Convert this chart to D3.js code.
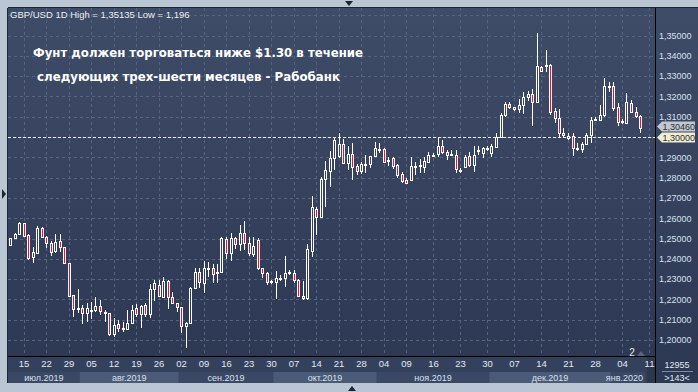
<!DOCTYPE html>
<html>
<head>
<meta charset="utf-8">
<script src="https://cdn.jsdelivr.net/npm/d3@7"></script>
<style>
  body { margin: 0; background: #bac6d4; }
  svg { display: block; }
</style>
</head>
<body>
<svg id="chart" width="698" height="392"></svg>
<script>
// GBP/USD daily candles (index 0 = 10 Jul 2019)
var opens = [1.2468,1.2501,1.2521,1.2575,1.2517,1.2407,1.2430,1.2550,1.2506,1.2479,
  1.2440,1.2486,1.2457,1.2378,1.2222,1.2151,1.2156,1.2132,1.2150,1.2148,
  1.2169,1.2139,1.2131,1.2028,1.2077,1.2058,1.2056,1.2085,1.2159,1.2127,
  1.2171,1.2127,1.2250,1.2271,1.2213,1.2291,1.2213,1.2181,1.2161,1.2069,
  1.2085,1.2255,1.2336,1.2282,1.2350,1.2353,1.2330,1.2336,1.2496,1.2430,
  1.2501,1.2473,1.2529,1.2476,1.2424,1.2493,1.2353,1.2332,1.2287,1.2287,
  1.2302,1.2304,1.2330,1.2332,1.2296,1.2217,1.2205,1.2440,1.2645,1.2607,
  1.2792,1.2834,1.2895,1.2906,1.2964,1.2873,1.2916,1.2857,1.2834,1.2865,
  1.2865,1.2906,1.2941,1.2939,1.2885,1.2895,1.2862,1.2818,1.2788,1.2788,
  1.2855,1.2858,1.2851,1.2878,1.2910,1.2916,1.2956,1.2928,1.2913,1.2911,
  1.2839,1.2854,1.2906,1.2862,1.2933,1.2920,1.2941,1.2920,1.2952,1.3001,
  1.3108,1.3163,1.3146,1.3136,1.3158,1.3199,1.3212,1.3174,1.3347,1.3352,
  1.3355,1.3130,1.3092,1.3018,1.2994,1.3005,1.2946,1.2939,1.2966,1.3010,
  1.3084,1.3084,1.3108,1.3249,1.3251,1.3146,1.3075,1.3071,1.3169,1.3125,
  1.3103];
var highs = [1.2503,1.2525,1.2581,1.2578,1.2520,1.2460,1.2562,1.2558,1.2512,1.2486,
  1.2521,1.2522,1.2460,1.2380,1.2223,1.2250,1.2171,1.2181,1.2187,1.2210,
  1.2197,1.2148,1.2135,1.2107,1.2099,1.2090,1.2148,1.2172,1.2177,1.2172,
  1.2181,1.2276,1.2296,1.2296,1.2309,1.2296,1.2236,1.2184,1.2164,1.2090,
  1.2260,1.2353,1.2353,1.2389,1.2386,1.2374,1.2374,1.2509,1.2506,1.2529,
  1.2509,1.2567,1.2588,1.2509,1.2509,1.2501,1.2356,1.2337,1.2296,1.2341,
  1.2320,1.2414,1.2345,1.2345,1.2300,1.2291,1.2473,1.2709,1.2654,1.2801,
  1.2882,1.2933,1.2997,1.3018,1.2988,1.2956,1.2969,1.2865,1.2878,1.2911,
  1.2906,1.2977,1.2972,1.2947,1.2901,1.2903,1.2867,1.2828,1.2798,1.2903,
  1.2879,1.2890,1.2903,1.2928,1.2920,1.2993,1.2985,1.2936,1.2938,1.2936,
  1.2846,1.2911,1.2928,1.2956,1.2956,1.2953,1.2956,1.2966,1.3018,1.3116,
  1.3174,1.3174,1.3150,1.3186,1.3223,1.3228,1.3235,1.3514,1.3350,1.3429,
  1.3358,1.3145,1.3140,1.3043,1.3018,1.3018,1.2970,1.2977,1.3018,1.3100,
  1.3100,1.3158,1.3289,1.3272,1.3272,1.3166,1.3090,1.3218,1.3184,1.3150,
  1.3108];
var lows = [1.2465,1.2498,1.2518,1.2510,1.2394,1.2381,1.2428,1.2501,1.2455,1.2414,
  1.2427,1.2435,1.2378,1.2215,1.2115,1.2132,1.2077,1.2090,1.2102,1.2136,
  1.2123,1.2090,1.2021,1.2013,1.2041,1.2041,1.2049,1.2079,1.2115,1.2061,
  1.2115,1.2107,1.2194,1.2210,1.2210,1.2154,1.2177,1.2139,1.2036,1.1960,
  1.2079,1.2250,1.2255,1.2233,1.2312,1.2282,1.2282,1.2328,1.2398,1.2391,
  1.2447,1.2440,1.2443,1.2414,1.2410,1.2345,1.2304,1.2271,1.2278,1.2202,
  1.2290,1.2263,1.2318,1.2279,1.2213,1.2197,1.2197,1.2410,1.2517,1.2601,
  1.2657,1.2752,1.2837,1.2895,1.2870,1.2837,1.2788,1.2813,1.2818,1.2821,
  1.2846,1.2903,1.2920,1.2870,1.2857,1.2841,1.2797,1.2772,1.2772,1.2785,
  1.2812,1.2825,1.2821,1.2870,1.2905,1.2903,1.2916,1.2887,1.2905,1.2824,
  1.2824,1.2846,1.2854,1.2829,1.2911,1.2895,1.2930,1.2903,1.2946,1.2993,
  1.3100,1.3140,1.3130,1.3118,1.3113,1.3175,1.3054,1.3170,1.3325,1.3322,
  1.3108,1.3067,1.2994,1.2994,1.2983,1.2906,1.2929,1.2920,1.2961,1.2969,
  1.3077,1.3080,1.3100,1.3223,1.3130,1.3054,1.3066,1.3067,1.3120,1.3095,
  1.3018];
var closes = [1.2501,1.2521,1.2578,1.2514,1.2402,1.2435,1.2550,1.2506,1.2476,1.2435,
  1.2484,1.2457,1.2381,1.2218,1.2151,1.2156,1.2132,1.2156,1.2146,1.2169,
  1.2143,1.2131,1.2028,1.2074,1.2058,1.2060,1.2082,1.2148,1.2127,1.2167,
  1.2127,1.2251,1.2279,1.2217,1.2291,1.2214,1.2181,1.2161,1.2069,1.2082,
  1.2255,1.2336,1.2287,1.2353,1.2353,1.2325,1.2333,1.2501,1.2430,1.2501,
  1.2473,1.2529,1.2479,1.2430,1.2463,1.2353,1.2329,1.2287,1.2290,1.2304,
  1.2305,1.2332,1.2334,1.2296,1.2217,1.2205,1.2447,1.2654,1.2607,1.2792,
  1.2837,1.2895,1.2985,1.2964,1.2873,1.2916,1.2854,1.2833,1.2867,1.2868,
  1.2906,1.2944,1.2939,1.2878,1.2887,1.2859,1.2813,1.2785,1.2775,1.2857,
  1.2858,1.2862,1.2883,1.2911,1.2913,1.2956,1.2928,1.2911,1.2915,1.2841,
  1.2837,1.2903,1.2862,1.2911,1.2937,1.2944,1.2946,1.2956,1.3001,1.3108,
  1.3163,1.3146,1.3136,1.3158,1.3199,1.3212,1.3174,1.3350,1.3327,1.3355,
  1.3125,1.3092,1.3018,1.3008,1.3004,1.2944,1.2943,1.2966,1.3010,1.3084,
  1.3089,1.3108,1.3251,1.3252,1.3141,1.3075,1.3078,1.3174,1.3125,1.3103,
  1.3046];

// bottom axis: candle index of each date label
var tickIdx = [3, 8, 13, 18, 23, 28, 33, 38, 43, 48, 53, 58, 63, 68, 73, 78, 83, 88, 94, 100, 106, 112, 118, 124, 130, 136, 142];
var tickLabels = ["15","22","29","05","12","19","26","02","09","16","23","30","07","14","21","28","04","09","16","23","30","07","14","21","28","04","11"];

// month bands (first candle index of each month)
var monthStart = [-3, 16, 38, 59, 82, 107, 134];
var monthEnd   = [16, 38, 59, 82, 107, 134, 141.6];
var monthNames = ["июл.2019","авг.2019","сен.2019","окт.2019","ноя.2019","дек.2019","янв.2020"];

var priceTicks = [1.20,1.21,1.22,1.23,1.24,1.25,1.26,1.27,1.28,1.29,1.30,1.31,1.32,1.33,1.34,1.35];
var lastPrice = 1.3046, levelPrice = 1.30;

var svg = d3.select("#chart");
var plotL = 8, plotR = 655, plotT = 8, plotB = 357, axisB = 383;
var font = "Liberation Sans, Arial, sans-serif";

var x = d3.scaleLinear().domain([0, 140]).range([10, 640]);
var y = d3.scaleLinear().domain([1.20, 1.35]).range([340, 35.5]);
var fmt = function(d) { return d3.format(".5f")(d).replace(".", ","); };

var defs = svg.append("defs");
var grad = defs.append("linearGradient").attr("id", "bg")
    .attr("gradientUnits", "userSpaceOnUse")
    .attr("x1", 0).attr("y1", plotT).attr("x2", 0).attr("y2", axisB);
grad.append("stop").attr("offset", "0%").attr("stop-color", "#3f4c68");
grad.append("stop").attr("offset", "100%").attr("stop-color", "#2c3752");
defs.append("clipPath").attr("id", "plotclip")
  .append("rect").attr("x", plotL).attr("y", plotT).attr("width", plotR - plotL).attr("height", plotB - plotT);

// frame
svg.append("rect").attr("x", 0).attr("y", 0).attr("width", 698).attr("height", 392).attr("fill", "#bac6d4");
svg.append("rect").attr("x", plotL).attr("y", plotT).attr("width", 698 - plotL).attr("height", axisB - plotT).attr("fill", "url(#bg)");
svg.append("line").attr("x1", plotL - 0.5).attr("x2", plotL - 0.5).attr("y1", plotT).attr("y2", axisB)
    .attr("stroke", "#1c2436");
svg.append("line").attr("x1", plotL).attr("x2", 698).attr("y1", plotT - 0.5).attr("y2", plotT - 0.5)
    .attr("stroke", "#1c2436");

// grid
var g = svg.append("g").attr("clip-path", "url(#plotclip)");
g.selectAll(".hgrid").data(priceTicks.concat([1.36])).enter().append("line")
    .attr("x1", plotL).attr("x2", plotR)
    .attr("y1", function(d) { return Math.round(y(d)) + 0.5; })
    .attr("y2", function(d) { return Math.round(y(d)) + 0.5; })
    .attr("stroke", "#56647f").attr("stroke-dasharray", "3,3");
g.selectAll(".vgrid").data(tickIdx).enter().append("line")
    .attr("x1", function(d) { return Math.round(x(d)) + 0.5; })
    .attr("x2", function(d) { return Math.round(x(d)) + 0.5; })
    .attr("y1", plotT).attr("y2", plotB)
    .attr("stroke", "#56647f").attr("stroke-dasharray", "3,3");

// 1.30 level line
g.append("line").attr("x1", plotL).attr("x2", plotR)
    .attr("y1", Math.round(y(levelPrice)) + 0.5).attr("y2", Math.round(y(levelPrice)) + 0.5)
    .attr("stroke", "#eeeeee").attr("stroke-dasharray", "3,2");

// candles
var candles = d3.range(opens.length).map(function(i) {
  return {i: i, o: opens[i], h: highs[i], l: lows[i], c: closes[i]};
});
var cg = g.append("g");
cg.selectAll(".wick").data(candles).enter().append("line")
    .attr("x1", function(d) { return Math.round(x(d.i)) + 0.5; })
    .attr("x2", function(d) { return Math.round(x(d.i)) + 0.5; })
    .attr("y1", function(d) { return Math.round(y(d.h)); })
    .attr("y2", function(d) { return Math.round(y(d.l)); })
    .attr("stroke", "#ffffff");
cg.selectAll(".body").data(candles).enter().append("rect")
    .attr("x", function(d) { return Math.round(x(d.i)) - 0.5; })
    .attr("width", 2)
    .attr("y", function(d) { return Math.round(y(Math.max(d.o, d.c))) + 0.5; })
    .attr("height", function(d) {
      return Math.max(1, Math.round(y(Math.min(d.o, d.c))) - Math.round(y(Math.max(d.o, d.c))));
    })
    .attr("fill", function(d) { return d.c < d.o ? "#e3123c" : "url(#bg)"; })
    .attr("stroke", "#ffffff");

// header texts
svg.append("text").attr("x", 10).attr("y", 18)
    .attr("font-family", font).attr("font-size", "9.5px")
    .attr("fill", "#e9eef5")
    .text("GBP/USD 1D  High = 1,35135 Low = 1,196");
svg.append("text").attr("x", 33).attr("y", 57)
    .attr("font-family", "DejaVu Sans, sans-serif").attr("font-size", "12px").attr("font-weight", "bold")
    .attr("fill", "#ffffff").attr("textLength", 330).attr("lengthAdjust", "spacingAndGlyphs")
    .text("Фунт должен торговаться ниже $1.30 в течение");
svg.append("text").attr("x", 37).attr("y", 81)
    .attr("font-family", "DejaVu Sans, sans-serif").attr("font-size", "12px").attr("font-weight", "bold")
    .attr("fill", "#ffffff").attr("textLength", 303).attr("lengthAdjust", "spacingAndGlyphs")
    .text("следующих трех-шести месяцев - Рабобанк");

// x axis area
svg.append("rect").attr("x", plotL).attr("y", plotB).attr("width", plotR - plotL).attr("height", axisB - plotB)
    .attr("fill", "#34415c");
svg.selectAll(".band").data(monthNames).enter().append("rect")
    .attr("x", function(d, i) { return Math.max(plotL, x(monthStart[i] - 0.5)); })
    .attr("width", function(d, i) { return Math.min(plotR - 8, x(monthEnd[i] - 0.5)) - Math.max(plotL, x(monthStart[i] - 0.5)); })
    .attr("y", 372).attr("height", axisB - 372)
    .attr("fill", function(d, i) { return i % 2 ? "#4b5a77" : "#3a4865"; });
svg.append("rect").attr("x", plotR - 8).attr("y", plotB).attr("width", 8).attr("height", axisB - plotB)
    .attr("fill", "#2c364c");

var xAxis = svg.append("g").attr("transform", "translate(0," + plotB + ")")
    .call(d3.axisBottom(x).tickValues(tickIdx).tickSize(0).tickPadding(3)
      .tickFormat(function(d, i) { return tickLabels[i]; }));
xAxis.select(".domain").remove();
xAxis.selectAll("text").attr("font-family", font)
    .attr("font-size", "9.5px").attr("fill", "#e2e8f0");

svg.selectAll(".month").data(monthNames).enter().append("text")
    .attr("x", function(d, i) {
      var a = Math.max(plotL, x(monthStart[i] - 0.5)), b = Math.min(plotR - 8, x(monthEnd[i] - 0.5));
      return i === monthNames.length - 1 ? b - 2 : (a + b) / 2;
    })
    .attr("y", 381)
    .attr("text-anchor", function(d, i) { return i === monthNames.length - 1 ? "end" : "middle"; })
    .attr("font-family", font).attr("font-size", "9px")
    .attr("fill", "#d8e0ec")
    .text(function(d) { return d; });

// borders of plot
svg.append("line").attr("x1", plotL).attr("x2", plotR).attr("y1", plotB - 0.5).attr("y2", plotB - 0.5)
    .attr("stroke", "#000000");
svg.append("line").attr("x1", plotR + 0.5).attr("x2", plotR + 0.5).attr("y1", plotT).attr("y2", axisB)
    .attr("stroke", "#000000");

// right price axis (the 1,30000 tick sits under its own tag)
var yAxis = svg.append("g").attr("transform", "translate(" + plotR + ",0)")
    .call(d3.axisRight(y).tickValues(priceTicks.filter(function(d) { return d !== levelPrice; }))
      .tickSize(0).tickPadding(4).tickFormat(fmt));
yAxis.select(".domain").remove();
yAxis.selectAll("text").attr("font-family", font)
    .attr("font-size", "9px").attr("fill", "#d6e0ee");

// price tags
function tag(cy, fill, label) {
  var t = svg.append("g");
  t.append("path")
    .attr("d", "M" + (plotR + 2) + "," + cy + "L" + (plotR + 7) + "," + (cy - 5) + "H695V" + (cy + 5) + "H" + (plotR + 7) + "Z")
    .attr("fill", fill);
  t.append("text").attr("x", plotR + 7.5).attr("y", cy + 3.5)
    .attr("font-family", font).attr("font-size", "9px")
    .attr("fill", "#2a2f3a").text(label);
}
var yLevel = Math.round(y(levelPrice)) + 0.5;
tag(Math.min(Math.round(y(lastPrice)), yLevel - 11), "#c3c7cf", fmt(lastPrice));
tag(yLevel, "#f1edcf", fmt(levelPrice));

// bottom-right counters
svg.append("text").attr("x", 677).attr("y", 368).attr("text-anchor", "middle")
    .attr("font-family", font).attr("font-size", "9px")
    .attr("fill", "#e2e8f0").text("12955");
svg.append("line").attr("x1", 662).attr("x2", 693).attr("y1", 371.5).attr("y2", 371.5).attr("stroke", "#7d8aa2");
svg.append("text").attr("x", 677).attr("y", 381).attr("text-anchor", "middle")
    .attr("font-family", font).attr("font-size", "9px")
    .attr("fill", "#e2e8f0").text(">143<");

// small markers
svg.append("text").attr("x", 632).attr("y", 356).attr("text-anchor", "middle")
    .attr("font-family", font).attr("font-size", "10px")
    .attr("fill", "#e6e6e6").text("2");
svg.append("path").attr("d", "M637,356L641,351L645,356Z").attr("fill", "#56647f");
svg.append("path").attr("d", "M2,189L6,194L2,199Z").attr("fill", "#1c2436");
svg.append("path").attr("d", "M345,1L353,1L349,6Z").attr("fill", "#1c2436");
svg.append("path").attr("d", "M348,391L356,391L352,386Z").attr("fill", "#1c2436");
</script>
</body>
</html>
